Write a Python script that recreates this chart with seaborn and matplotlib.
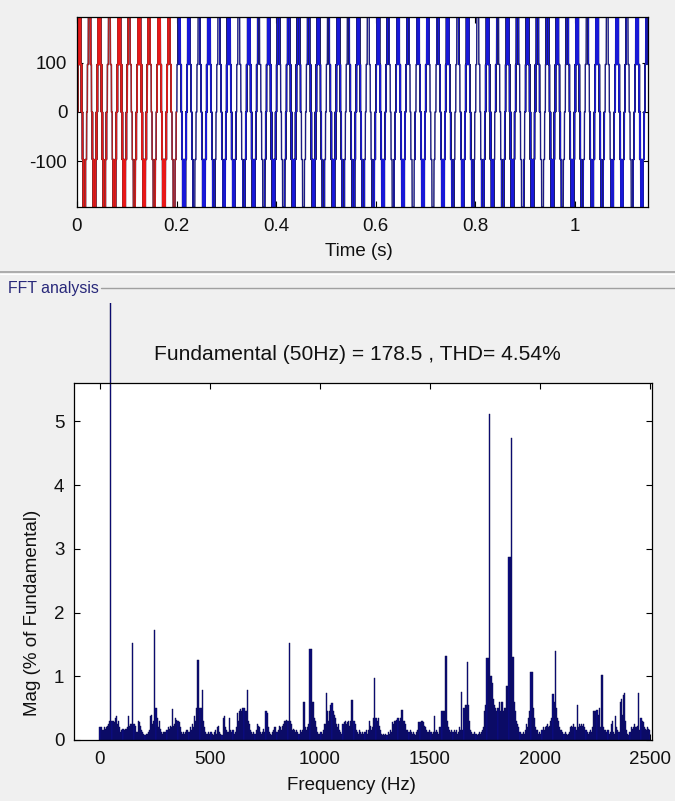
import numpy as np
import pandas as pd
import matplotlib
matplotlib.use("Agg")
import matplotlib.pyplot as plt
from matplotlib.lines import Line2D
from matplotlib.transforms import Bbox, TransformedBbox
import seaborn as sns

# ---------------------------------------------------------------- inverter model
fundamental_hz = 50.0          # output fundamental
fundamental_peak = 178.5       # fundamental amplitude (V)
cell_voltage = 96.5            # one voltage level step (V)
carrier_hz = 1820.0            # level-shifted carrier frequency
log_rate_hz = 3663.0           # scope logging rate
sim_end = 1.147                # logged time span (s)
fft_window = (0.0, 0.2)        # 10 cycles used for the FFT

# ---------------------------------------------------------------- FFT result (% of fundamental, 5 Hz bins)
mag_band1 = [  # 0 - 495 Hz
    0.2, 0.2, 0.15, 0.15, 0.2, 0.18, 0.2, 0.22, 0.25, 0.3, 100.0, 0.3, 0.3, 0.28, 0.35, 0.38, 0.25, 0.3, 0.2, 0.12,
    0.15, 0.17, 0.15, 0.18, 0.17, 0.2, 0.38, 0.22, 0.25, 0.25, 1.52, 0.25, 0.22, 0.12, 0.12, 0.3, 0.28, 0.22, 0.15, 0.12,
    0.1, 0.08, 0.1, 0.1, 0.12, 0.15, 0.38, 0.4, 0.25, 0.3, 1.73, 0.5, 0.35, 0.2, 0.3, 0.18, 0.12, 0.1, 0.12, 0.12,
    0.12, 0.15, 0.2, 0.18, 0.22, 0.2, 0.48, 0.22, 0.25, 0.35, 0.32, 0.3, 0.28, 0.2, 0.12, 0.1, 0.12, 0.1, 0.12, 0.15,
    0.15, 0.12, 0.2, 0.15, 0.25, 0.2, 0.38, 0.3, 0.5, 1.26, 1.26, 0.5, 0.5, 0.78, 0.3, 0.2, 0.12, 0.1, 0.1, 0.12,
]
mag_band2 = [  # 500 - 995 Hz
    0.1, 0.12, 0.1, 0.08, 0.12, 0.15, 0.1, 0.2, 0.22, 0.12, 0.1, 0.08, 0.35, 0.37, 0.2, 0.15, 0.12, 0.12, 0.35, 0.15,
    0.12, 0.15, 0.1, 0.12, 0.2, 0.42, 0.3, 0.45, 0.48, 0.45, 0.5, 0.5, 0.45, 0.45, 0.79, 0.3, 0.25, 0.15, 0.12, 0.1,
    0.12, 0.1, 0.15, 0.25, 0.22, 0.2, 0.12, 0.1, 0.12, 0.18, 0.12, 0.45, 0.42, 0.2, 0.12, 0.1, 0.08, 0.12, 0.15, 0.2,
    0.2, 0.12, 0.15, 0.22, 0.2, 0.15, 0.22, 0.25, 0.3, 0.3, 0.32, 0.3, 1.52, 0.3, 0.25, 0.15, 0.18, 0.15, 0.12, 0.15,
    0.12, 0.1, 0.15, 0.12, 0.15, 0.6, 0.6, 0.2, 0.15, 0.2, 0.25, 1.43, 1.43, 0.6, 0.6, 0.35, 0.3, 0.2, 0.12, 0.1,
]
mag_band3 = [  # 1000 - 1495 Hz
    0.1, 0.12, 0.1, 0.15, 0.25, 0.25, 0.73, 0.45, 0.3, 0.45, 0.55, 0.58, 0.45, 0.4, 0.35, 0.25, 0.2, 0.25, 0.15, 0.12,
    0.1, 0.25, 0.28, 0.3, 0.25, 0.28, 0.3, 0.22, 0.3, 0.62, 0.62, 0.3, 0.25, 0.15, 0.12, 0.1, 0.15, 0.12, 0.1, 0.12,
    0.1, 0.12, 0.15, 0.1, 0.15, 0.3, 0.22, 0.15, 0.2, 0.35, 0.98, 0.35, 0.3, 0.35, 0.22, 0.15, 0.1, 0.08, 0.1, 0.08,
    0.1, 0.08, 0.12, 0.1, 0.15, 0.12, 0.28, 0.25, 0.3, 0.3, 0.32, 0.35, 0.3, 0.35, 0.47, 0.47, 0.3, 0.3, 0.25, 0.15,
    0.15, 0.12, 0.15, 0.12, 0.1, 0.12, 0.1, 0.08, 0.12, 0.15, 0.28, 0.28, 0.3, 0.3, 0.28, 0.22, 0.2, 0.15, 0.12, 0.12,
]
mag_band4 = [  # 1500 - 1995 Hz
    0.15, 0.12, 0.1, 0.12, 0.38, 0.12, 0.15, 0.12, 0.1, 0.2, 0.2, 0.45, 0.45, 0.45, 1.32, 1.32, 0.3, 0.2, 0.15, 0.12,
    0.15, 0.12, 0.15, 0.12, 0.15, 0.1, 0.12, 0.2, 0.15, 0.75, 0.15, 0.5, 0.55, 0.55, 1.23, 0.55, 0.3, 0.15, 0.12, 0.1,
    0.1, 0.12, 0.1, 0.08, 0.1, 0.12, 0.1, 0.12, 0.15, 0.2, 0.45, 0.55, 1.28, 1.28, 5.12, 1.0, 1.0, 0.9, 0.65, 0.55,
    0.5, 0.45, 0.5, 0.6, 0.45, 0.6, 0.6, 0.45, 0.5, 0.5, 0.85, 0.85, 2.87, 2.87, 4.73, 1.3, 1.3, 0.6, 0.45, 0.3,
    0.25, 0.2, 0.12, 0.1, 0.1, 0.12, 0.1, 0.15, 0.25, 0.2, 0.35, 0.45, 1.07, 1.07, 0.5, 0.35, 0.2, 0.15, 0.15, 0.1,
]
mag_band5 = [  # 2000 - 2500 Hz
    0.12, 0.1, 0.15, 0.2, 0.15, 0.2, 0.22, 0.25, 0.2, 0.22, 0.3, 0.35, 0.72, 0.6, 1.4, 0.5, 0.35, 0.3, 0.2, 0.15,
    0.15, 0.12, 0.1, 0.12, 0.1, 0.08, 0.1, 0.12, 0.2, 0.22, 0.2, 0.25, 0.2, 0.15, 0.55, 0.2, 0.25, 0.22, 0.25, 0.22,
    0.25, 0.2, 0.15, 0.12, 0.1, 0.12, 0.15, 0.12, 0.2, 0.45, 0.45, 0.45, 0.47, 0.4, 0.5, 0.2, 1.02, 1.02, 0.2, 0.15,
    0.15, 0.12, 0.15, 0.1, 0.12, 0.25, 0.3, 0.12, 0.1, 0.38, 0.2, 0.15, 0.12, 0.6, 0.65, 0.4, 0.7, 0.73, 0.3, 0.15,
    0.1, 0.08, 0.12, 0.2, 0.18, 0.2, 0.25, 0.2, 0.2, 0.22, 0.73, 0.15, 0.35, 0.3, 0.28, 0.2, 0.18, 0.15, 0.2, 0.18,
    0.15,
]
bin_hz = 5.0

title_text = "Fundamental (50Hz) = 178.5 , THD= 4.54%"
time_ticks = [0, 0.2, 0.4, 0.6, 0.8, 1.0]
time_tick_labels = ["0", "0.2", "0.4", "0.6", "0.8", "1"]
volt_ticks = [-100, 0, 100]
volt_tick_labels = ["-100", "0", "100"]
freq_ticks = [0, 500, 1000, 1500, 2000, 2500]
freq_tick_labels = ["0", "500", "1000", "1500", "2000", "2500"]
mag_ticks = [0, 1, 2, 3, 4, 5]
mag_tick_labels = ["0", "1", "2", "3", "4", "5"]

# ---------------------------------------------------------------- five-level output voltage, as logged by the scope
t = np.arange(0.0, sim_end, 1.0 / log_rate_hz)
reference = fundamental_peak / cell_voltage * np.sin(2 * np.pi * fundamental_hz * t)   # in level units (-2..2)
phase = (t * carrier_hz) % 1.0
carrier = np.abs(2 * phase - 1)                       # triangle 0..1
levels = np.zeros_like(t)
for offset in (1.0, 0.0, -1.0, -2.0):                 # four stacked carriers
    levels += (reference > carrier + offset)
v_out = (levels - 2.0) * cell_voltage
wave = pd.DataFrame({"t": t, "v": v_out})
win = wave[(wave.t >= fft_window[0]) & (wave.t <= fft_window[1])]

mag = np.array(mag_band1 + mag_band2 + mag_band3 + mag_band4 + mag_band5)
freq = np.arange(len(mag)) * bin_hz
spectrum = pd.DataFrame({"freq": freq, "mag": mag})

# ---------------------------------------------------------------- figure
sns.set_theme(style="white")
plt.rcParams["font.family"] = ["Liberation Sans", "DejaVu Sans"]
plt.rcParams["axes.unicode_minus"] = False

W, H = 675, 801
fig = plt.figure(figsize=(W / 100, H / 100), dpi=100, facecolor="#f0f0f0")

def fx(px):
    return px / W

def fy(px):
    return 1 - px / H

tick_fs = 13.5

def style_axes(ax):
    ax.set_facecolor("white")
    for s in ax.spines.values():
        s.set_visible(True)
        s.set_color("black")
        s.set_linewidth(0.9)
    ax.tick_params(direction="in", length=4.5, width=0.8, colors="black",
                   top=True, right=True, bottom=True, left=True,
                   labelsize=tick_fs, labelcolor="#111111")

# --- time waveform (dark outline with a bright core, so dense switching reads brighter)
ax1 = fig.add_axes([fx(77), fy(207), fx(648) - fx(77), fy(17) - fy(207)])
style_axes(ax1)
sns.lineplot(data=wave, x="t", y="v", estimator=None, sort=False, color="#1e1e66", linewidth=1.0, ax=ax1)
sns.lineplot(data=wave, x="t", y="v", estimator=None, sort=False, color="#1818d8", linewidth=0.2, ax=ax1)
sns.lineplot(data=win, x="t", y="v", estimator=None, sort=False, color="#962828", linewidth=1.0, ax=ax1)
sns.lineplot(data=win, x="t", y="v", estimator=None, sort=False, color="#e81818", linewidth=0.2, ax=ax1)
ax1.set_xlim(0, sim_end)
ax1.set_ylim(v_out.min(), v_out.max())
ax1.set_xticks(time_ticks)
ax1.set_xticklabels(time_tick_labels)
ax1.set_yticks(volt_ticks)
ax1.set_yticklabels(volt_tick_labels)
ax1.tick_params(axis="x", pad=8)
ax1.tick_params(axis="y", pad=7)
ax1.set_xlabel("Time (s)", fontsize=tick_fs, color="#111111")
ax1.xaxis.set_label_coords(0.493, (207 - 251) / 190)
ax1.xaxis.label.set_va("center")
ax1.set_ylabel("")

# --- panel separator and group box
fig.add_artist(Line2D([0, 1], [fy(272), fy(272)], transform=fig.transFigure, color="#a0a0a0", lw=1.2))
fig.add_artist(Line2D([0, 1], [fy(273.5), fy(273.5)], transform=fig.transFigure, color="#ffffff", lw=0.8))
fig.text(fx(8), fy(288), "FFT analysis", fontsize=11.4, color="#28287a", va="center", ha="left")
fig.add_artist(Line2D([fx(101), 1], [fy(288), fy(288)], transform=fig.transFigure, color="#a0a0a0", lw=1.0))

# --- spectrum
ax2 = fig.add_axes([fx(74), fy(740), fx(652) - fx(74), fy(383) - fy(740)])
style_axes(ax2)
sns.barplot(data=spectrum, x="freq", y="mag", native_scale=True, width=1.0, errorbar=None,
            color="#0b0b8c", saturation=1, edgecolor="#0c0c48", linewidth=0.3, ax=ax2)
ax2.set_xlim(-118, 2510)
ax2.set_ylim(0, 5.6)
ax2.set_xticks(freq_ticks)
ax2.set_xticklabels(freq_tick_labels)
ax2.set_yticks(mag_ticks)
ax2.set_yticklabels(mag_tick_labels)
ax2.tick_params(axis="x", pad=8)
ax2.tick_params(axis="y", pad=7)
ax2.set_xlabel("Frequency (Hz)", fontsize=tick_fs, color="#111111")
ax2.xaxis.set_label_coords(0.48, (740 - 786) / 357)
ax2.xaxis.label.set_va("center")
ax2.set_ylabel("Mag (% of Fundamental)", fontsize=tick_fs, color="#111111")
ax2.yaxis.set_label_coords((33 - 74) / 578, (740 - 613) / 357)
ax2.yaxis.label.set_va("center")
ax2.text(0.491, (740 - 354) / 357, title_text, transform=ax2.transAxes,
         ha="center", va="center", fontsize=15.1, color="#111111")

# the fundamental bar runs past the axes up to the group box
clip = TransformedBbox(Bbox([[fx(74), fy(740)], [fx(652), fy(303)]]), fig.transFigure)
for p in ax2.patches:
    p.set_clip_box(clip)

fig.savefig("out.png", dpi=100, facecolor=fig.get_facecolor())
